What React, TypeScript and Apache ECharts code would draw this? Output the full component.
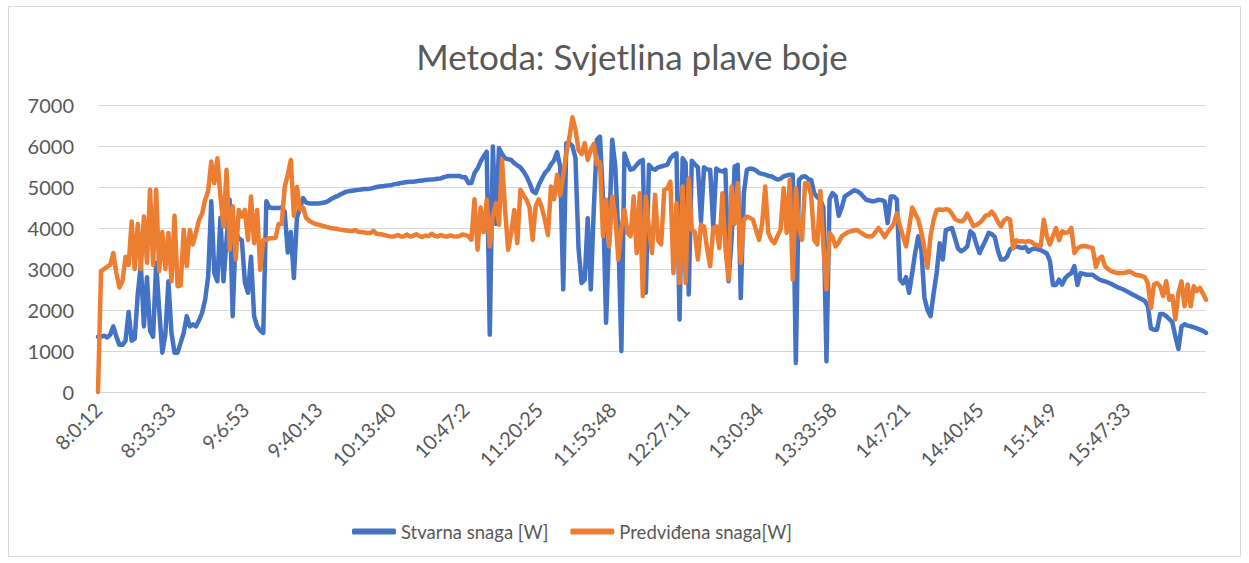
import React, { useEffect, useRef } from "react";
import * as echarts from "echarts";

const titleText = "Metoda: Svjetlina plave boje";
const seriesNames = ["Stvarna snaga [W]", "Predviđena snaga[W]"];
const tickLabels = [
  "8:0:12", "8:33:33", "9:6:53", "9:40:13", "10:13:40", "10:47:2", "11:20:25",
  "11:53:48", "12:27:11", "13:0:34", "13:33:58", "14:7:21", "14:40:45", "15:14:9", "15:47:33",
];
const samplesPerTick = 24;

const stvarna = [
  /* 0 */ 1350, 1350, 1370, 1330, 1400, 1600, 1350, 1150, 1150, 1250,
  /* 10 */ 1950, 1250, 1300, 2400, 3100, 1600, 2800, 1500, 1350, 3150,
  /* 20 */ 2000, 960, 1400, 2700, 1450, 960, 960, 1200, 1440, 1850,
  /* 30 */ 1600, 1650, 1600, 1750, 1930, 2250, 2820, 4650, 2900, 2700,
  /* 40 */ 4250, 2700, 3710, 4690, 1850, 3880, 3750, 3700, 2660, 2420,
  /* 50 */ 3300, 1850, 1600, 1500, 1440, 4650, 4500, 4490, 4490, 4490,
  /* 60 */ 4500, 4400, 3400, 3900, 2780, 4250, 4500, 4730, 4620, 4600,
  /* 70 */ 4600, 4600, 4600, 4610, 4620, 4650, 4700, 4740, 4770, 4810,
  /* 80 */ 4850, 4880, 4900, 4910, 4920, 4930, 4940, 4950, 4950, 4960,
  /* 90 */ 4980, 5000, 5010, 5020, 5030, 5040, 5050, 5070, 5080, 5100,
  /* 100 */ 5110, 5120, 5130, 5130, 5140, 5150, 5160, 5170, 5180, 5185,
  /* 110 */ 5190, 5200, 5210, 5240, 5260, 5270, 5270, 5270, 5270, 5240,
  /* 120 */ 5240, 5100, 5100, 5340, 5450, 5620, 5750, 5860, 1400, 5990,
  /* 130 */ 4100, 5950, 5800, 5700, 5680, 5660, 5580, 5530, 5480, 5380,
  /* 140 */ 5260, 5100, 4900, 4850, 5050, 5200, 5340, 5420, 5550, 5650,
  /* 150 */ 5850, 5500, 2500, 6070, 6070, 6000, 5700, 3500, 2660, 2740,
  /* 160 */ 4240, 2500, 4500, 6150, 6230, 4690, 1690, 3880, 6150, 5500,
  /* 170 */ 3800, 1000, 5820, 5600, 5420, 5450, 5540, 5620, 5660, 2420,
  /* 180 */ 5540, 5450, 5420, 5480, 5500, 5520, 5540, 5700, 5780, 5820,
  /* 190 */ 1770, 5700, 5580, 2380, 5640, 5550, 5480, 4160, 5480, 5430,
  /* 200 */ 5420, 4040, 5450, 5400, 5380, 5420, 2700, 3710, 5500, 5540,
  /* 210 */ 2290, 4850, 5420, 5450, 5440, 5400, 5340, 5320, 5300, 5270,
  /* 220 */ 5260, 5220, 5180, 5200, 5260, 5280, 5300, 5300, 710, 5170,
  /* 230 */ 5250, 5260, 5200, 5170, 4850, 4750, 4690, 4500, 750, 4700,
  /* 240 */ 4850, 4780, 4300, 4500, 4770, 4820, 4870, 4920, 4900, 4850,
  /* 250 */ 4770, 4690, 4670, 4650, 4660, 4690, 4680, 4650, 4120, 4770,
  /* 260 */ 4770, 4700, 2740, 2650, 2800, 2420, 2900, 3400, 3800, 3470,
  /* 270 */ 2300, 2000, 1850, 2400, 2900, 3630, 3230, 3950, 3980, 4000,
  /* 280 */ 3750, 3500, 3430, 3480, 3550, 3920, 3850, 3600, 3390, 3550,
  /* 290 */ 3700, 3880, 3850, 3780, 3450, 3230, 3230, 3300, 3480, 3530,
  /* 300 */ 3550, 3530, 3510, 3540, 3420, 3480, 3500, 3480, 3460, 3420,
  /* 310 */ 3380, 3200, 2610, 2610, 2740, 2620, 2780, 2850, 2900, 3070,
  /* 320 */ 2610, 2900, 2880, 2860, 2860, 2860, 2800, 2750, 2720, 2700,
  /* 330 */ 2670, 2640, 2600, 2560, 2530, 2500, 2460, 2420, 2380, 2340,
  /* 340 */ 2300, 2260, 2220, 2100, 1550, 1520, 1520, 1900, 1900, 1850,
  /* 350 */ 1780, 1700, 1350, 1050, 1600, 1650, 1620, 1600, 1580, 1550,
  /* 360 */ 1520, 1490, 1440,
];

const predvidjena = [
  /* 0 */ 0, 2950, 3000, 3050, 3100, 3390, 2900, 2550, 2700, 3300,
  /* 10 */ 3100, 4160, 3000, 4100, 3000, 4280, 3150, 4930, 3100, 4930,
  /* 20 */ 2950, 3900, 3000, 3880, 2700, 4300, 2580, 2600, 3950, 3070,
  /* 30 */ 3950, 3600, 3880, 4200, 4350, 4690, 4900, 5620, 5090, 5700,
  /* 40 */ 4770, 4040, 5420, 3470, 4530, 3230, 4440, 4280, 4440, 3710,
  /* 50 */ 4770, 3630, 4440, 2980, 3710, 3710, 3750, 3750, 3760, 4100,
  /* 60 */ 4100, 5000, 5300, 5660, 4300, 5000, 4450, 4500, 4250, 4180,
  /* 70 */ 4130, 4100, 4080, 4060, 4040, 4020, 4000, 3990, 3980, 3960,
  /* 80 */ 3950, 3940, 3930, 3920, 3950, 3910, 3900, 3890, 3880, 3880,
  /* 90 */ 3930, 3860, 3850, 3840, 3820, 3800, 3790, 3800, 3830, 3790,
  /* 100 */ 3800, 3840, 3790, 3810, 3850, 3800, 3780, 3820, 3800, 3860,
  /* 110 */ 3810, 3790, 3830, 3800, 3790, 3820, 3800, 3790, 3800, 3840,
  /* 120 */ 3830, 3800, 3710, 4700, 3470, 4500, 3900, 4690, 3550, 4300,
  /* 130 */ 4600, 4080, 5660, 4440, 3470, 3880, 4440, 3630, 4930, 4800,
  /* 140 */ 4690, 4500, 3710, 4530, 4700, 4500, 4200, 3830, 5010, 4700,
  /* 150 */ 5300, 4800, 5300, 5820, 6200, 6700, 6400, 5900, 5800, 6070,
  /* 160 */ 5660, 5900, 6050, 5550, 5600, 3800, 4690, 3550, 4770, 4300,
  /* 170 */ 3230, 4000, 4440, 3880, 3800, 4770, 3390, 4850, 2340, 4770,
  /* 180 */ 4000, 3390, 4810, 3700, 3600, 4930, 4970, 5130, 2900, 4610,
  /* 190 */ 2660, 5010, 2660, 5210, 3960, 3900, 3230, 4080, 4040, 3500,
  /* 200 */ 3070, 4000, 4040, 3510, 4850, 3500, 2740, 5010, 4100, 5090,
  /* 210 */ 3150, 4200, 4280, 4250, 4200, 3950, 3710, 4120, 5010, 3880,
  /* 220 */ 3710, 3630, 3800, 3960, 4970, 3880, 5170, 2740, 4970, 4000,
  /* 230 */ 3710, 5090, 5090, 4800, 3710, 3600, 4900, 3550, 2500, 3880,
  /* 240 */ 3780, 3550, 3650, 3800, 3850, 3900, 3920, 3940, 3950, 3900,
  /* 250 */ 3850, 3800, 3800, 3800, 3900, 4000, 3900, 3780, 3900, 4000,
  /* 260 */ 4100, 4360, 4050, 3800, 3550, 4000, 4500, 4350, 4200, 3900,
  /* 270 */ 3500, 3030, 3800, 4200, 4440, 4450, 4440, 4460, 4440, 4350,
  /* 280 */ 4220, 4180, 4160, 4200, 4350, 4200, 4050, 4080, 4120, 4200,
  /* 290 */ 4300, 4320, 4400, 4300, 4150, 4040, 4180, 4240, 4200, 3500,
  /* 300 */ 3700, 3670, 3680, 3660, 3680, 3660, 3600, 3580, 3560, 4200,
  /* 310 */ 3800, 3600, 3800, 4000, 3700, 3920, 3880, 3900, 4000, 3390,
  /* 320 */ 3500, 3550, 3560, 3550, 3530, 3510, 3050, 3250, 3300, 3070,
  /* 330 */ 3000, 2950, 2920, 2900, 2900, 2900, 2920, 2940, 2900, 2860,
  /* 340 */ 2850, 2830, 2800, 2660, 2050, 2620, 2660, 2580, 2340, 2700,
  /* 350 */ 2250, 2340, 1770, 2420, 2700, 2090, 2620, 2090, 2580, 2460,
  /* 360 */ 2540, 2400, 2250,
];

const categories = stvarna.map((_, i) => {
  const t = Math.floor(i / samplesPerTick);
  const r = i % samplesPerTick;
  if (r === 0 && t < tickLabels.length) return tickLabels[t];
  const last = Math.min(t, tickLabels.length - 1);
  return `${tickLabels[last]}+${i - last * samplesPerTick}`;
});

const FONT = "Lato, 'Open Sans', sans-serif";
const TXT = "#595959";

export default function App() {
  const ref = useRef<HTMLDivElement>(null);
  useEffect(() => {
    if (!ref.current) return;
    const chart = echarts.init(ref.current, null, { renderer: "svg" });
    chart.setOption({
      animation: false,
      backgroundColor: "#ffffff",
      textStyle: { fontFamily: FONT },
      graphic: [
        {
          type: "rect",
          shape: { x: 8.5, y: 6.5, width: 1232, height: 550 },
          style: { fill: "none", stroke: "#d9d9d9", lineWidth: 1 },
          silent: true,
        },
        {
          type: "text",
          x: 632,
          y: 56,
          style: {
            text: titleText,
            fontSize: 35,
            fontFamily: FONT,
            fill: TXT,
            align: "center",
            verticalAlign: "middle",
          },
        },
      ],
      legend: {
        left: 347,
        top: 517,
        itemWidth: 44,
        itemHeight: 6,
        itemGap: 22,
        icon: "roundRect",
        textStyle: { fontSize: 18.5, color: TXT, fontFamily: FONT },
        data: seriesNames,
      },
      grid: { left: 98, right: 43, top: 105, bottom: 171 },
      xAxis: {
        type: "category",
        boundaryGap: false,
        data: categories,
        axisLine: { show: true, lineStyle: { color: "#d9d9d9", width: 1 } },
        axisTick: { show: false },
        axisLabel: {
          interval: samplesPerTick - 1,
          rotate: 45,
          fontSize: 20,
          color: TXT,
          margin: 14,
          fontFamily: FONT,
          formatter: (v: string) => (tickLabels.includes(v) ? v : ""),
        },
        splitLine: { show: false },
      },
      yAxis: {
        type: "value",
        min: 0,
        max: 7000,
        interval: 1000,
        axisLine: { show: false },
        axisTick: { show: false },
        axisLabel: {
          fontSize: 20,
          color: TXT,
          margin: 24,
          fontFamily: FONT,
          formatter: (v: number) => String(v),
        },
        splitLine: { lineStyle: { color: "#d9d9d9", width: 1 } },
      },
      series: [
        {
          name: seriesNames[0],
          type: "line",
          data: stvarna,
          symbol: "none",
          color: "#4472C4",
          lineStyle: { width: 4.5, color: "#4472C4", cap: "round", join: "round" },
        },
        {
          name: seriesNames[1],
          type: "line",
          data: predvidjena,
          symbol: "none",
          color: "#ED7D31",
          lineStyle: { width: 4.5, color: "#ED7D31", cap: "round", join: "round" },
        },
      ],
    });
    return () => chart.dispose();
  }, []);
  return (
    <div
      ref={ref}
      style={{ position: "absolute", left: 0, top: 0, width: 1249, height: 563, background: "#fff" }}
    />
  );
}
